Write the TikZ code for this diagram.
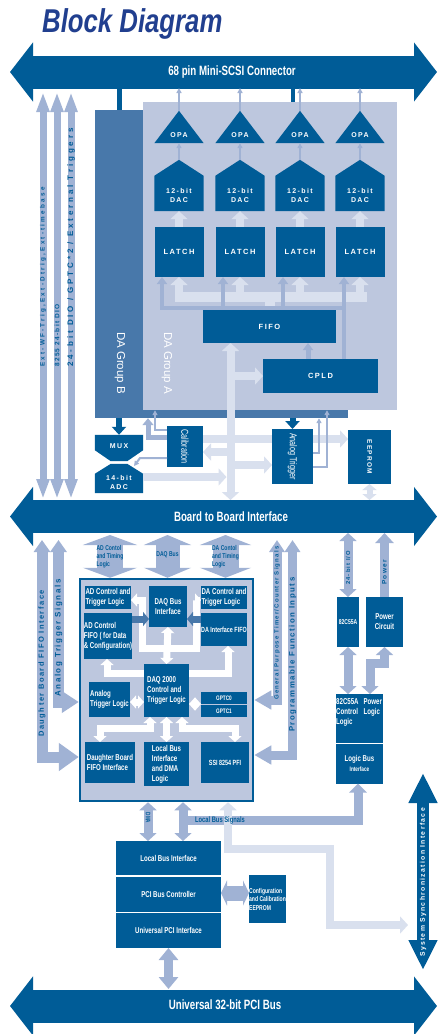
\documentclass[tikz,border=0pt]{standalone}
\usepackage{fontspec}
\setmainfont{Liberation Sans}
\newfontfamily\cf{Liberation Sans}[FakeStretch=0.72]
\newfontfamily\lsf{Liberation Sans}[LetterSpace=20]
\newfontfamily\lsfw{Liberation Sans}[LetterSpace=36]
\newfontfamily\ttlf{Liberation Sans}[FakeStretch=0.78]
\usetikzlibrary{shapes,arrows.meta}
\definecolor{dkblue}{HTML}{005C97}
\definecolor{mdblue}{HTML}{4878AA}
\definecolor{panel}{HTML}{BDC7DE}
\definecolor{lnblue}{HTML}{A0B2D4}
\definecolor{ltarrow}{HTML}{D9E0EE}
\definecolor{ttlblue}{HTML}{213F8F}
\tikzstyle{bus} = [draw=dkblue, line width=33pt, {Triangle[width=58pt,length=23pt]}-{Triangle[width=58pt,length=23pt]}]
\tikzstyle{buslbl} = [text=white, inner sep=0pt, font=\cf\bfseries\fontsize{13.5}{14}\selectfont]
\tikzstyle{blk} = [rectangle, fill=dkblue, text=white, inner sep=0pt, outer sep=0pt, align=center, font=\cf\bfseries\fontsize{8.5}{10}\selectfont]
\tikzstyle{wtxt} = [text=white, inner sep=0pt, align=center, font=\lsf\bfseries\fontsize{7}{9}\selectfont]
\tikzstyle{thn} = [draw=lnblue, line width=1.6pt, -{Triangle[width=5pt,length=5pt]}]
\tikzstyle{mdln} = [draw=lnblue, line width=4pt, -{Triangle[width=10pt,length=7pt]}]
\tikzstyle{ltfat} = [draw=ltarrow, line width=8pt, -{Triangle[width=17pt,length=8pt]}]
\tikzstyle{dkfat} = [draw=dkblue, line width=6pt, -{Triangle[width=14pt,length=8pt]}]
\tikzstyle{lnfat} = [draw=lnblue, line width=9pt, {Triangle[width=17pt,length=8pt]}-{Triangle[width=17pt,length=8pt]}]
\tikzstyle{wfat} = [draw=white, line width=7pt, {Triangle[width=13pt,length=6pt]}-{Triangle[width=13pt,length=6pt]}]
\tikzstyle{side} = [draw=lnblue, line width=11pt]
\tikzstyle{sig} = [draw=lnblue, line width=7pt, {Triangle[width=12pt,length=20pt]}-{Triangle[width=12pt,length=20pt]}]
\tikzstyle{sigtxt} = [text=dkblue, rotate=90, anchor=west, inner sep=0pt, font=\lsf\bfseries\fontsize{6.5}{7}\selectfont]
\tikzstyle{ctxt} = [text=dkblue, inner sep=0pt, align=left, font=\cf\bfseries\fontsize{7}{8}\selectfont]

\begin{document}
\begin{tikzpicture}[x=1pt,y=-1pt]
\useasboundingbox (0,0) rectangle (437,1034);
\fill [white] (0,0) rectangle (437,1034);
\node [anchor=base west, inner sep=0pt, text=ttlblue, font=\ttlf\bfseries\itshape\fontsize{33}{33}\selectfont] (ttl) at (42,32) {Block Diagram};

% buses
\coordinate (b1w) at (10,72);
\coordinate (b1e) at (437,72);
\coordinate (b1s) at (0,88);
\coordinate (b2w) at (10,516.5);
\coordinate (b2e) at (437,516.5);
\coordinate (b2n) at (0,500);
\coordinate (b2s) at (0,533);
\coordinate (b3w) at (10,1006);
\coordinate (b3e) at (437,1006);
\coordinate (b3n) at (0,989);
\path [bus] (b1w) -- (b1e);
\path [bus] (b2w) -- (b2e);
\path [bus] (b3w) -- (b3e);
\node [buslbl] (lb1) at (232,72) {68 pin Mini-SCSI Connector};
\node [buslbl] (lb2) at (231,516.5) {Board to Board Interface};
\node [buslbl] (lb3) at (225,1005) {Universal 32-bit PCI Bus};

% external signals
\foreach \x in {43,57,71} \path [sig] (\x,92) -- (\x,499);
\node [sigtxt, font=\lsfw\bfseries\fontsize{6.3}{7}\selectfont] (s1) at (43,367) {Ext-WF-Trig,Ext-Dtrig,Ext-timebase};
\node [sigtxt] (s2) at (57,367) {8255 24-bit DIO};
\node [sigtxt, font=\lsfw\bfseries\fontsize{8}{8}\selectfont] (s3) at (71,367) {24-bit DIO / GPTC*2 / External Triggers};

% DA groups
\node [fill=mdblue, inner sep=0pt, minimum width=253, minimum height=308] (grpb) at (221.5,264) {};
\node [fill=panel, inner sep=0pt, minimum width=254, minimum height=308] (grpa) at (270,256) {};
\node [rotate=-90, text=white, font=\fontsize{11.5}{12}\selectfont] (tb) at (120,363) {DA Group B};
\node [rotate=-90, text=white, font=\fontsize{11.5}{12}\selectfont] (ta) at (167,363) {DA Group A};
\path [draw=dkblue, line width=5pt] (b1s -| 119,0) -- (grpb.north -| 119,0);
\path [draw=dkblue, line width=4pt] (b1s -| 293,0) -- (grpa.north -| 293,0);

\foreach \i/\x in {1/179,2/240,3/300,4/360} {
  \node [inner sep=0pt, minimum width=49, minimum height=32] (opa\i) at (\x,127) {};
  \fill [dkblue] (opa\i.south west) -- (opa\i.south east) -- (opa\i.north) -- cycle;
  \node [wtxt] at ([yshift=8pt]opa\i.south) {OPA};
  \node [inner sep=0pt, minimum width=49, minimum height=51] (dac\i) at (\x,185.5) {};
  \fill [dkblue] (dac\i.south west) -- (dac\i.south east) -- ([yshift=-16pt]dac\i.north east) -- (dac\i.north) -- ([yshift=-16pt]dac\i.north west) -- cycle;
  \node [wtxt] at (\x,195) {12-bit\\DAC};
  \node [blk, font=\lsf\bfseries\fontsize{7.5}{9}\selectfont, minimum width=49, minimum height=50] (lat\i) at (\x,252) {LATCH};
  \path [thn] (opa\i.north) -- (b1s -| opa\i.north);
  \path [thn] (dac\i.north) -- (opa\i.south);
  \path [ltfat] (lat\i.north) -- (dac\i.south);
}

\path [draw=ltarrow, line width=10pt] (175,297) -- (367,297);
\foreach \i in {1,...,4} \path [ltfat] (lat\i.south |- 0,297) -- (lat\i.south);
\node [blk, font=\lsf\bfseries\fontsize{7.5}{9}\selectfont, minimum width=133, minimum height=33] (fifo) at (269.5,326.5) {FIFO};
\path [draw=ltarrow, line width=10pt] (fifo.north |- 0,297) -- (fifo.north);
\node [blk, font=\lsf\bfseries\fontsize{7.5}{9}\selectfont, minimum width=115, minimum height=34] (cpld) at (320.5,376) {CPLD};
\path [draw=lnblue, line width=4pt] (cpld.north -| 344,0) -- (344,308) -- (160,308);
\foreach \i/\xx in {1/162,2/223,3/283,4/344} \path [mdln] (\xx,308) -- (lat\i.south -| \xx,0);
\path [mdln, line width=5pt] (cpld.north -| 308,0) -- (fifo.south -| 308,0);

\coordinate (vb) at (230.5,420);
\coordinate (vbl) at (226.5,420);
\path [ltfat, {Triangle[width=17pt,length=8pt]}-{Triangle[width=17pt,length=8pt]}] (fifo.south -| vb) -- (b2n -| vb);
\path [ltfat] (vb |- cpld.west) -- (cpld.west);

% MUX and ADC
\node [inner sep=0pt, minimum width=48, minimum height=26] (mux) at (119,448) {};
\fill [dkblue] (mux.north west) -- (mux.north east) -- ([yshift=11pt]mux.south east) -- ([xshift=-16pt]mux.south east) -- ([xshift=16pt]mux.south west) -- ([yshift=11pt]mux.south west) -- cycle;
\node [inner sep=0pt, minimum width=48, minimum height=29] (adc) at (119,478.5) {};
\fill [dkblue] ([xshift=16pt]adc.north west) -- ([xshift=-16pt]adc.north east) -- ([yshift=-10pt]adc.north east) -- (adc.south east) -- (adc.south west) -- ([yshift=-10pt]adc.north west) -- cycle;
\node [wtxt] at (119,446) {MUX};
\node [wtxt] at (119,482) {14-bit\\ADC};
\path [dkfat] (grpb.south -| mux.north) -- (mux.north);

\node [blk, minimum width=36, minimum height=41] (cal) at (185,446.5) {};
\node [rotate=-90, text=white, font=\cf\fontsize{10}{10}\selectfont] at (cal) {Calibration};
\node [blk, minimum width=43, minimum height=54] (eep) at (369.5,457) {};
\node [rotate=-90, wtxt, font=\lsf\bfseries\fontsize{6.5}{8}\selectfont] at (eep) {EEPROM};
\path [ltfat] (cal.east |- 0,439) -- (eep.west |- 0,439);
\node [blk, minimum width=41, minimum height=55] (atrig) at (292.5,456.5) {};
\node [rotate=-90, text=white, font=\cf\fontsize{10}{10}\selectfont] at (atrig) {Analog Trigger};
\path [ltfat] (vb |- 0,452) -- (cal.east |- 0,452);
\path [ltfat] (adc.east |- 0,477) -- (vbl |- 0,477);
\path [ltfat] (vb |- 0,465) -- (atrig.west |- 0,465);
\path [dkfat] (grpb.south -| atrig.north) -- (atrig.north);
\path [draw=lnblue, line width=5pt, -{Triangle[width=11pt,length=7pt]}] (cal.west |- 0,437) -| (grpb.south -| 148,0);
\path [thn, line width=2pt] (cal.west |- 0,430) -| (grpa.south -| 155,0);
\path [thn, line width=2pt] (cal.west |- 0,458) -- (140,458) -- (134,466);
\path [thn, line width=2pt] (atrig.east |- 0,453) -| (grpb.south -| 319,0);
\path [thn, line width=2pt] (atrig.east |- 0,467) -| (grpa.south -| 327,0);
\path [ltfat, line width=6pt, {Triangle[width=14pt,length=6pt]}-{Triangle[width=14pt,length=6pt]}] (eep.south) -- (b2n -| eep.south);

% DAQ 2000 board
\node [draw=dkblue, line width=2.5pt, fill=panel, inner sep=0pt, minimum width=173, minimum height=222] (box) at (166.5,690) {};
\path [draw=lnblue, line width=26pt, {Triangle[width=54pt,length=10pt]}-{Triangle[width=54pt,length=10pt]}] (110,535) -- (box.north -| 110,0);
\path [draw=lnblue, line width=24pt, {Triangle[width=47pt,length=10pt]}-{Triangle[width=47pt,length=10pt]}] (167.5,535) -- (box.north -| 167.5,0);
\path [draw=lnblue, line width=26pt, {Triangle[width=51pt,length=10pt]}-{Triangle[width=51pt,length=10pt]}] (225.5,535) -- (box.north -| 225.5,0);
\node [ctxt] (c1) at (110,557) {AD Contol\\and Timing\\Logic};
\node [ctxt] (c2) at (167.5,555) {DAQ Bus};
\node [ctxt] (c3) at (225.5,557) {DA Contol\\and Timing\\Logic};

\node [blk, align=left, minimum width=46, minimum height=23] (adct) at (108,597.5) {AD Control and\\Trigger Logic};
\node [blk, align=left, minimum width=46, minimum height=46] (adfifo) at (108,636) {AD Control\\FIFO ( for Data\\\& Configuration)};
\node [blk, minimum width=38, minimum height=41] (daqbus) at (168,606.5) {DAQ Bus\\Interface};
\node [blk, align=left, minimum width=46, minimum height=23] (dact) at (224,597.5) {DA Control and\\Trigger Logic};
\node [blk, font=\cf\bfseries\fontsize{7.5}{9}\selectfont, minimum width=46, minimum height=33] (dafifo) at (224,629.5) {DA Interface FIFO};
\node [blk, align=left, minimum width=45, minimum height=53] (daq2k) at (166.5,690.5) {DAQ 2000\\Control and\\Trigger Logic};
\node [blk, align=left, minimum width=41, minimum height=35] (atl) at (109.5,699.5) {Analog\\Trigger Logic};
\node [blk, font=\cf\bfseries\fontsize{6.5}{8}\selectfont, minimum width=46, minimum height=12] (gp0) at (224,698) {GPTC0};
\node [blk, font=\cf\bfseries\fontsize{6.5}{8}\selectfont, minimum width=46, minimum height=12] (gp1) at (224,711) {GPTC1};
\node [blk, align=left, minimum width=50, minimum height=41] (dbfifo) at (110,762.5) {Daughter Board\\FIFO Interface};
\node [blk, align=left, minimum width=45, minimum height=44] (lbdma) at (166.5,764) {Local Bus\\Interface\\and DMA\\Logic};
\node [blk, font=\cf\bfseries\fontsize{7.5}{9}\selectfont, minimum width=48, minimum height=41] (ssi) at (225,762.5) {SSI 8254 PFI};

\path [wfat] (adct.east |- 0,600) -- (142,600) -- (142,648) -- (196,648) -- (196,600) -- (dact.west |- 0,600);
\path [draw=mdblue, line width=7pt, -{Triangle[width=14pt,length=6pt]}] (adfifo.east |- 0,619) -- (daqbus.west |- 0,619);
\path [draw=mdblue, line width=7pt, -{Triangle[width=14pt,length=6pt]}] (dafifo.west |- 0,619) -- (daqbus.east |- 0,619);
\path [wfat] (daqbus.south) -- (daq2k.north);
\path [wfat, -{Triangle[width=13pt,length=6pt]}] (daq2k.west |- 0,673) -| (adfifo.south -| 107,0);
\path [wfat, -{Triangle[width=13pt,length=6pt]}] (daq2k.east |- 0,673) -| (dafifo.south -| 228,0);
\path [wfat] (atl.east |- 0,702) -- (daq2k.west |- 0,702);
\path [wfat] (daq2k.east |- 0,704) -- (gp0.west |- 0,704);
\path [wfat] (daq2k.south -| 150,0) -- (150,728) -| (dbfifo.north -| 100,0);
\path [wfat] (daq2k.south) -- (lbdma.north);
\path [wfat] (daq2k.south -| 182,0) -- (182,728) -| (ssi.north -| 235,0);

% signals into the board
\path [side, {Triangle[width=16pt,length=12pt]}-{Triangle[width=27pt,length=20pt]}] (42,540) |- (box.west |- 0,757);
\path [side, {Triangle[width=16pt,length=12pt]}-{Triangle[width=21pt,length=17pt]}] (58.5,540) |- (box.west |- 0,702);
\path [side, line width=9pt, {Triangle[width=15pt,length=12pt]}-{Triangle[width=18pt,length=17pt]}] (277,540) |- (box.east |- 0,700);
\path [side, line width=9pt, {Triangle[width=15pt,length=12pt]}-{Triangle[width=18pt,length=17pt]}] (292.5,540) |- (box.east |- 0,755);
\node [sigtxt, font=\lsf\bfseries\fontsize{7.5}{7}\selectfont] (s4) at (42,737) {Daughter Board FIFO Interface};
\node [sigtxt, font=\lsf\bfseries\fontsize{8}{7}\selectfont] (s5) at (58.5,697) {Analog Trigger Signals};
\node [sigtxt, font=\lsf\bfseries\fontsize{6}{6}\selectfont] (s6) at (277,700) {General Purpose Timer/Counter Signals};
\node [sigtxt, font=\lsf\bfseries\fontsize{7.8}{7}\selectfont] (s7) at (292.5,732) {Programmable Function Inputs};

% digital I/O and power
\node [blk, font=\cf\bfseries\fontsize{7}{8}\selectfont, minimum width=22, minimum height=50] (c55) at (348,622) {82C55A};
\node [blk, minimum width=37, minimum height=50] (pwr) at (384.5,622) {Power\\Circuit};
\node [blk, minimum width=47, minimum height=49] (ctrl) at (359.5,718.5) {};
\node [anchor=north west, text=white, inner sep=0pt, font=\cf\bfseries\fontsize{8.5}{10}\selectfont] (ctxt1) at (336,697) {\begin{tabular}{@{}l@{\hspace{5pt}}l@{}}82C55A & Power\\Control & Logic\\Logic & \end{tabular}};
\node [blk, minimum width=47, minimum height=40] (lbi) at (359.5,763.5) {Logic Bus\\{\fontsize{6.5}{8}\selectfont Interface}};
\path [lnfat] (b2s -| c55.north) -- (c55.north);
\path [lnfat, -{Triangle[width=18pt,length=10pt]}] (pwr.north) -- (b2s -| pwr.north);
\node [sigtxt, font=\lsf\bfseries\fontsize{5.8}{6}\selectfont] (s8) at (348,585) {24-bit I/O};
\node [sigtxt, font=\lsf\bfseries\fontsize{6.5}{7}\selectfont] (s9) at (384.5,585) {Power};
\path [lnfat] (c55.south) -- (ctrl.north -| c55.south);
\path [lnfat] (pwr.south) -- (384.5,663) -| (ctrl.north -| 370,0);

% PCI side
\node [blk, minimum width=105, minimum height=34] (lbif) at (168.5,858) {Local Bus Interface};
\node [blk, minimum width=105, minimum height=35] (pcibc) at (168.5,894.5) {PCI Bus Controller};
\node [blk, minimum width=105, minimum height=35] (upci) at (168.5,930.5) {Universal PCI Interface};
\node [blk, align=left, font=\cf\bfseries\fontsize{7}{8.5}\selectfont, minimum width=37, minimum height=48] (cfg) at (267.5,899) {Configuration\\and Calibration\\EEPROM};
\path [lnfat, line width=15pt, {Triangle[width=25pt,length=6pt]}-{Triangle[width=25pt,length=6pt]}] (pcibc.east |- 0,893) -- (cfg.west |- 0,893);
\path [lnfat, {Triangle[width=19pt,length=12pt]}-{Triangle[width=19pt,length=12pt]}] (upci.south) -- (b3n -| upci.south);
\path [lnfat] (box.south -| 148,0) -- (lbif.north -| 148,0);
\path [lnfat] (box.south -| 183,0) -- (lbif.north -| 183,0);
\path [draw=lnblue, line width=9pt, -{Triangle[width=17pt,length=9pt]}] (183,820) -| (lbi.south -| 358,0);
\node [rotate=-90, text=dkblue, inner sep=0pt, font=\cf\bfseries\fontsize{6.5}{7}\selectfont] (dma) at (148,818) {DMA};

% synchronization
\coordinate (syt) at (423,773);
\coordinate (syb) at (423,970);
\coordinate (syw) at (408,925);
\path [ltfat, {Triangle[width=17pt,length=8pt]}-{Triangle[width=17pt,length=8pt]}] (box.south -| 228,0) -- (228,849) -| (330,925) -- (syw);
\node [ctxt, font=\cf\bfseries\fontsize{8}{9}\selectfont] (lbs) at (220,820) {Local Bus Signals};
\path [draw=dkblue, line width=12pt, {Triangle[width=27pt,length=30pt]}-{Triangle[width=27pt,length=30pt]}] (syt) -- (syb);
\node [sigtxt, text=white, font=\lsf\bfseries\fontsize{6.8}{7}\selectfont] (s10) at (423,957) {System Synchronization Interface};
\end{tikzpicture}
\end{document}
